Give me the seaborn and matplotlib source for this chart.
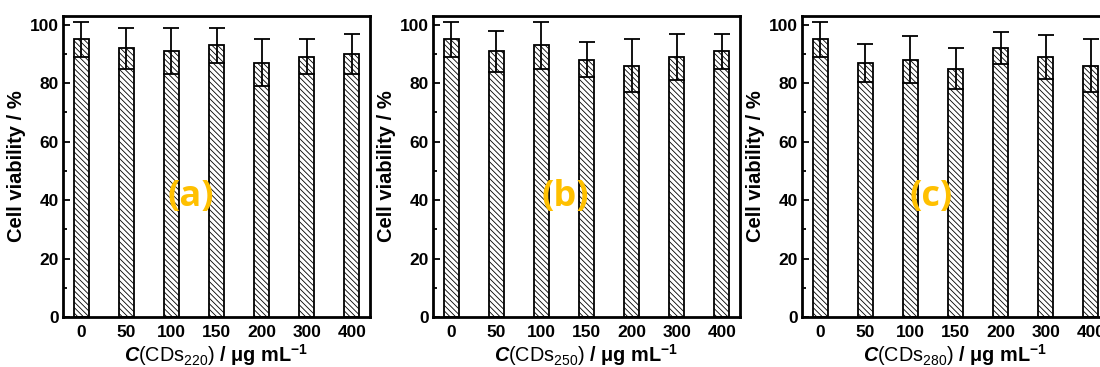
import matplotlib
matplotlib.use('Agg')
import matplotlib.pyplot as plt
import seaborn as sns
import numpy as np
import pandas as pd

# data
conc = ['0', '50', '100', '150', '200', '300', '400']
viab_a = [95, 92, 91, 93, 87, 89, 90]
err_a = [6, 7, 8, 6, 8, 6, 7]
viab_b = [95, 91, 93, 88, 86, 89, 91]
err_b = [6, 7, 8, 6, 9, 8, 6]
viab_c = [95, 87, 88, 85, 92, 89, 86]
err_c = [6, 6.5, 8, 7, 5.5, 7.5, 9]
subs = ['220', '250', '280']
tags = ['(a)', '(b)', '(c)']

sns.set_style('white', {'text.color': 'black', 'axes.labelcolor': 'black',
                        'xtick.color': 'black', 'ytick.color': 'black'})
plt.rcParams['font.family'] = ['Liberation Sans', 'DejaVu Sans']
plt.rcParams['mathtext.fontset'] = 'custom'
plt.rcParams['mathtext.rm'] = 'Liberation Sans'
plt.rcParams['mathtext.it'] = 'Liberation Sans:italic'
plt.rcParams['mathtext.bf'] = 'Liberation Sans:bold'
plt.rcParams['mathtext.bfit'] = 'Liberation Sans:bold:italic'
plt.rcParams['hatch.linewidth'] = 0.6

fig = plt.figure(figsize=(11, 3.67), dpi=100)
lefts = [63 / 1100, 433 / 1100, 802 / 1100]
tag_x = [0.417, 0.43, 0.42]

panels = [(viab_a, err_a), (viab_b, err_b), (viab_c, err_c)]
for i, (v, e) in enumerate(panels):
    ax = fig.add_axes([lefts[i], 1 - 317 / 367, 307 / 1100, 301 / 367])
    df = pd.DataFrame({'conc': conc, 'viab': v})
    sns.barplot(data=df, x='conc', y='viab', ax=ax, color='white', width=0.33,
                edgecolor='black', linewidth=1.3, hatch='\\' * 6, saturation=1)
    ax.errorbar(np.arange(len(conc)), v, yerr=e, fmt='none', ecolor='black',
                elinewidth=1.3, capsize=5.5, capthick=1.3, zorder=5)
    ax.set_xlim(-0.4, 6.4)
    ax.set_ylim(0, 103)
    ax.set_yticks([0, 20, 40, 60, 80, 100])
    ax.set_yticks([10, 30, 50, 70, 90], minor=True)
    ax.tick_params(axis='y', which='major', direction='in', length=5, width=1.3,
                   left=True, labelsize=12.5, pad=3)
    ax.tick_params(axis='y', which='minor', direction='in', length=3, width=1.3, left=True)
    ax.tick_params(axis='x', length=0, labelsize=12.5, pad=6)
    for lab in ax.get_xticklabels() + ax.get_yticklabels():
        lab.set_fontweight('bold')
    for sp in ax.spines.values():
        sp.set_linewidth(2)
        sp.set_color('black')
    ax.set_ylabel('Cell viability / %', fontsize=14.5, fontweight='bold', labelpad=3)
    ax.set_xlabel(r'$\mathbfit{C}\mathrm{(CDs_{' + subs[i] + r'})}\ \mathbf{/\ \mu g\ mL^{-1}}$',
                  fontsize=14.3, labelpad=1)
    ax.text(tag_x[i], 0.40, tags[i], transform=ax.transAxes, ha='center', va='center',
            fontsize=26, fontweight='bold', color='#FFC000', family='Open Sans', zorder=6)

fig.savefig('out.png', dpi=100)
